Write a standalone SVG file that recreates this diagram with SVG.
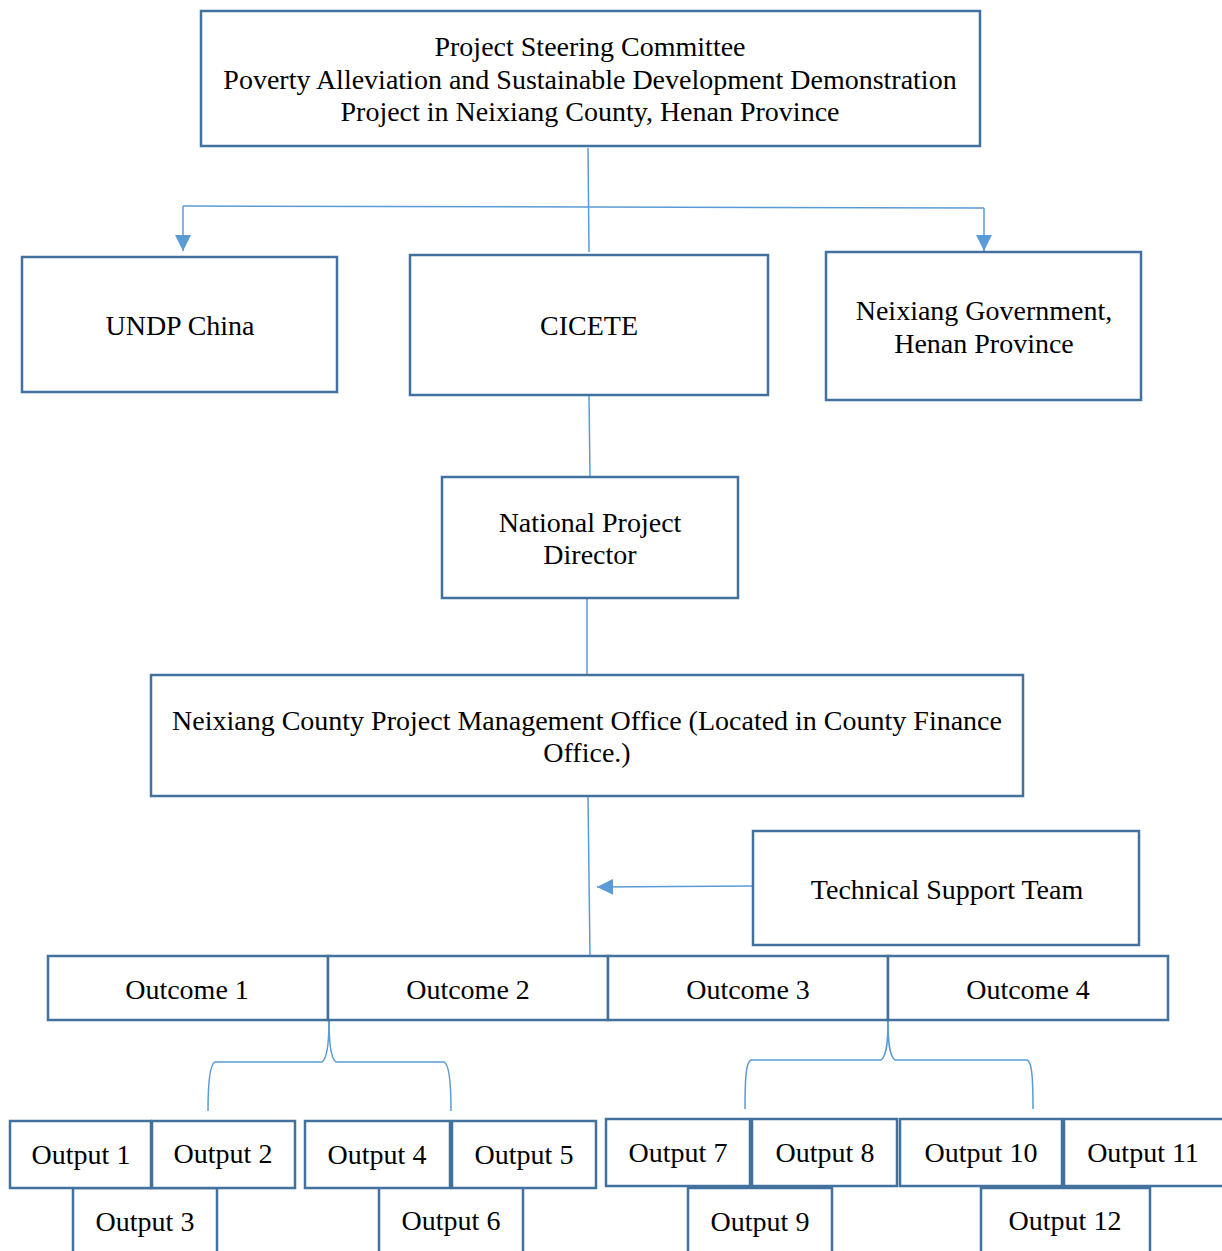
<svg xmlns="http://www.w3.org/2000/svg" width="1222" height="1251" viewBox="0 0 1222 1251">
<style>
.box{fill:#fff;stroke:#41719C;stroke-width:2.5}
.t{font-family:"Liberation Serif","Times New Roman",serif;font-size:28px;fill:#000;text-anchor:middle}
.c{fill:none;stroke:#5B9BD5;stroke-width:1.5}
</style>
<defs>
<marker id="ah" viewBox="0 0 10 10" refX="10" refY="5" markerWidth="16" markerHeight="16" markerUnits="userSpaceOnUse" orient="auto">
<path d="M0,0 L10,5 L0,10 z" fill="#5B9BD5"/>
</marker>
</defs>
<rect width="1222" height="1251" fill="#fff"/>
<g id="connectors">
<path class="c" d="M588,148 L589,252"/>
<path class="c" d="M183,206 L984,208"/>
<path class="c" d="M183,206 L183,251" marker-end="url(#ah)"/>
<path class="c" d="M984,208 L984,251" marker-end="url(#ah)"/>
<path class="c" d="M589,395 L590,477"/>
<path class="c" d="M587,598 L587,675"/>
<path class="c" d="M588,796 L590,956"/>
<path class="c" d="M753,886 L597,887" marker-end="url(#ah)"/>
<path class="c" d="M329,1020 C329,1040 328,1058 322,1062 L215,1062 C210,1064 208,1080 208,1111"/>
<path class="c" d="M329,1020 C329,1040 330,1058 336,1062 L444,1062 C449,1064 451,1080 451,1111"/>
<path class="c" d="M888,1020 C888,1040 887,1056 881,1060 L751,1060 C746,1062 745,1078 745,1109"/>
<path class="c" d="M888,1020 C888,1040 889,1056 895,1060 L1027,1060 C1032,1062 1033,1078 1033,1109"/>
</g>
<g id="steering"><rect class="box" x="201" y="11" width="779" height="135"/>
<text class="t" x="590" y="56">Project Steering Committee</text>
<text class="t" x="590" y="89">Poverty Alleviation and Sustainable Development Demonstration</text>
<text class="t" x="590" y="121">Project in Neixiang County, Henan Province</text></g>
<g id="undp"><rect class="box" x="22" y="257" width="315" height="135"/><text class="t" x="180" y="335">UNDP China</text></g>
<g id="cicete"><rect class="box" x="410" y="255" width="358" height="140"/><text class="t" x="589" y="335">CICETE</text></g>
<g id="neixiang"><rect class="box" x="826" y="252" width="315" height="148"/>
<text class="t" x="984" y="320">Neixiang Government,</text><text class="t" x="984" y="353">Henan Province</text></g>
<g id="npd"><rect class="box" x="442" y="477" width="296" height="121"/>
<text class="t" x="590" y="532">National Project</text><text class="t" x="590" y="564">Director</text></g>
<g id="pmo"><rect class="box" x="151" y="675" width="872" height="121"/>
<text class="t" x="587" y="730">Neixiang County Project Management Office (Located in County Finance</text><text class="t" x="587" y="762">Office.)</text></g>
<g id="tst"><rect class="box" x="753" y="831" width="386" height="114"/><text class="t" x="947" y="899">Technical Support Team</text></g>
<g id="outcome1"><rect class="box" x="48" y="956" width="280" height="64"/><text class="t" x="187" y="999">Outcome 1</text></g>
<g id="outcome2"><rect class="box" x="328" y="956" width="280" height="64"/><text class="t" x="468" y="999">Outcome 2</text></g>
<g id="outcome3"><rect class="box" x="608" y="956" width="280" height="64"/><text class="t" x="748" y="999">Outcome 3</text></g>
<g id="outcome4"><rect class="box" x="888" y="956" width="280" height="64"/><text class="t" x="1028" y="999">Outcome 4</text></g>
<g id="output3"><rect class="box" x="73" y="1188" width="144" height="70"/><text class="t" x="145" y="1231">Output 3</text></g>
<g id="output6"><rect class="box" x="379" y="1186" width="144" height="72"/><text class="t" x="451" y="1230">Output 6</text></g>
<g id="output9"><rect class="box" x="688" y="1188" width="144" height="70"/><text class="t" x="760" y="1231">Output 9</text></g>
<g id="output12"><rect class="box" x="981" y="1188" width="169" height="70"/><text class="t" x="1065" y="1230">Output 12</text></g>
<g id="output1"><rect class="box" x="10" y="1121" width="141" height="67"/><text class="t" x="81" y="1164">Output 1</text></g>
<g id="output2"><rect class="box" x="152" y="1121" width="143" height="67"/><text class="t" x="223" y="1163">Output 2</text></g>
<g id="output4"><rect class="box" x="305" y="1121" width="145" height="67"/><text class="t" x="377" y="1164">Output 4</text></g>
<g id="output5"><rect class="box" x="452" y="1121" width="144" height="67"/><text class="t" x="524" y="1164">Output 5</text></g>
<g id="output7"><rect class="box" x="606" y="1119" width="144" height="67"/><text class="t" x="678" y="1162">Output 7</text></g>
<g id="output8"><rect class="box" x="752" y="1119" width="145" height="67"/><text class="t" x="825" y="1162">Output 8</text></g>
<g id="output10"><rect class="box" x="900" y="1119" width="162" height="67"/><text class="t" x="981" y="1162">Output 10</text></g>
<g id="output11"><rect class="box" x="1064" y="1119" width="162" height="67"/><text class="t" x="1143" y="1162">Output 11</text></g>
</svg>
